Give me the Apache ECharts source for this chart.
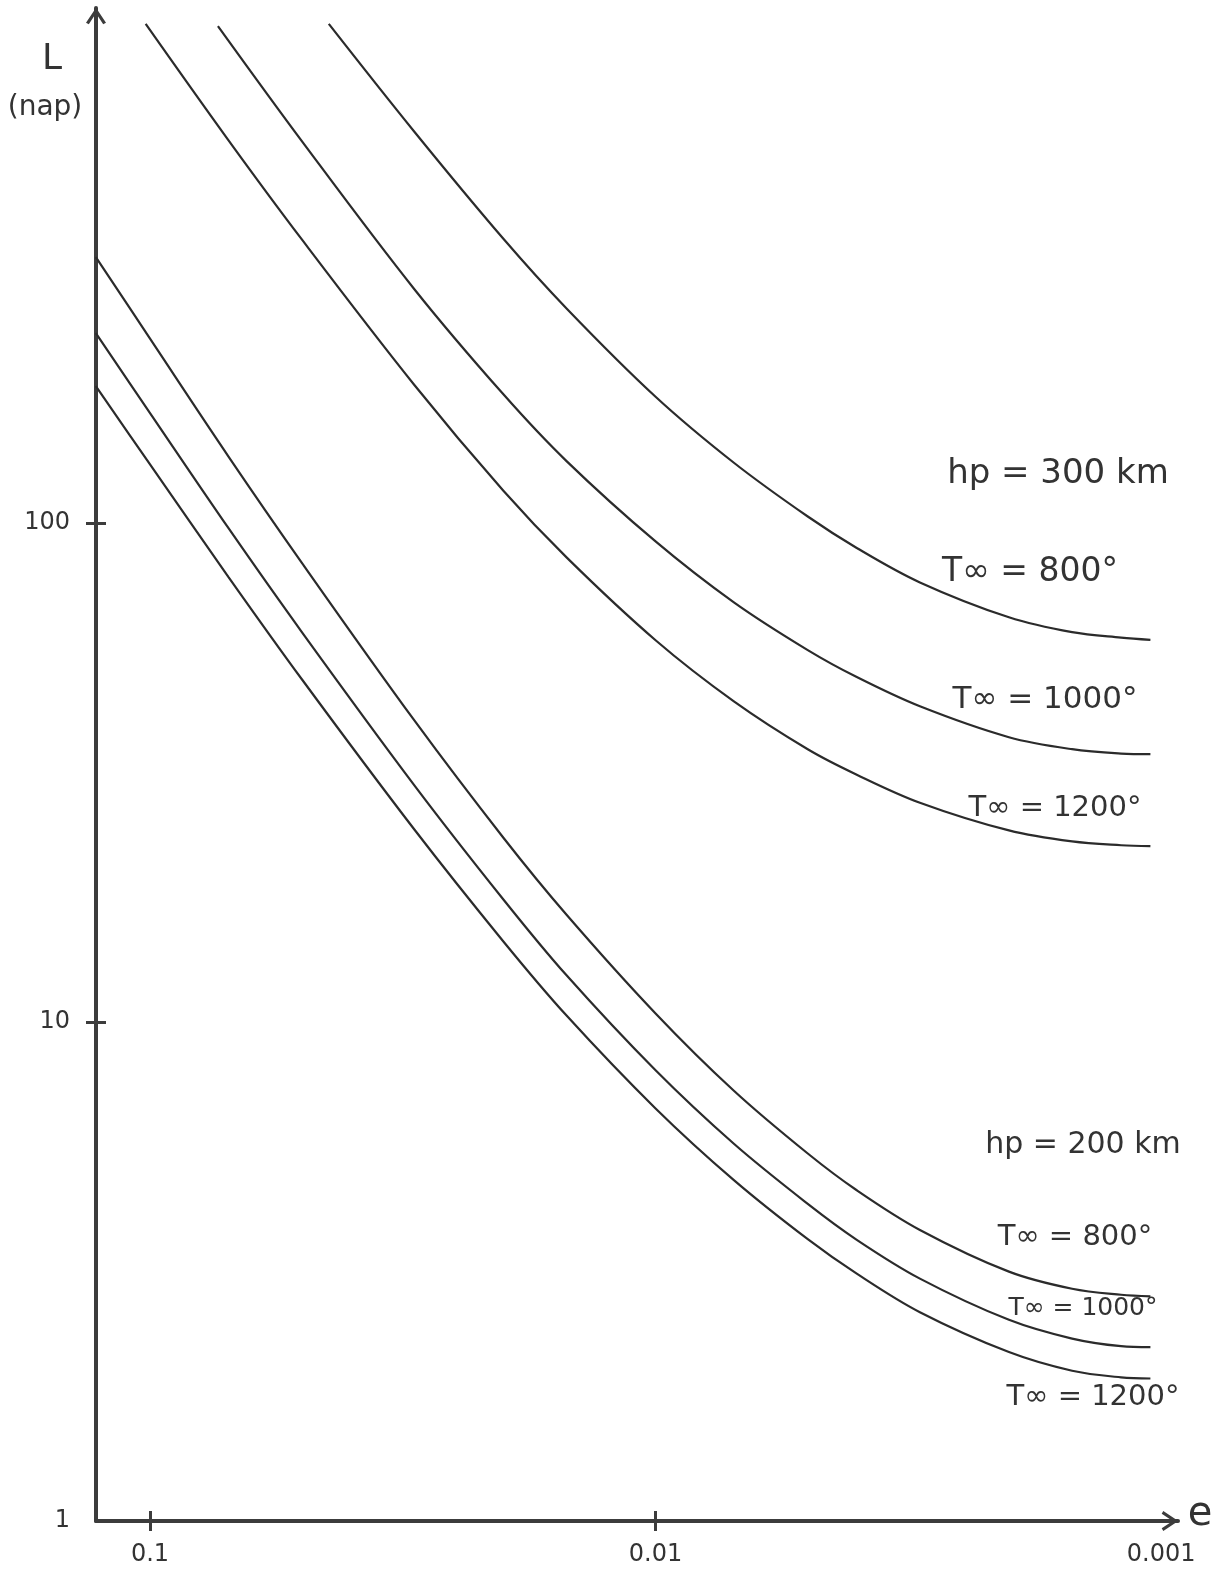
<!DOCTYPE html>
<html>
<head>
<meta charset="utf-8">
<script src="https://cdn.jsdelivr.net/npm/echarts@6/dist/echarts.min.js"></script>
<style>
  html, body { margin: 0; padding: 0; background: #ffffff; }
  #chart { width: 1218px; height: 1576px; }
</style>
</head>
<body>
<div id="chart"></div>
<script>
// Orbital lifetime L (days) against eccentricity e, perigee height hp and exospheric temperature T∞

// hp = 300 km
const hp300T800Ecc  = [0.0443, 0.03, 0.02, 0.015, 0.01, 0.007, 0.005, 0.004, 0.003, 0.002, 0.0015, 0.0012, 0.00105];
const hp300T800Life = [1000, 608, 371, 269, 179, 132, 103, 89.1, 76.0, 64.7, 60.4, 58.9, 58.3];

const hp300T1000Ecc  = [0.0734, 0.05, 0.03, 0.02, 0.015, 0.01, 0.007, 0.005, 0.004, 0.003, 0.002, 0.0015, 0.0012, 0.00105];
const hp300T1000Life = [990, 581, 294, 181, 133, 91.8, 69.3, 55.6, 49.1, 42.9, 37.2, 35.2, 34.5, 34.4];

const hp300T1200Ecc  = [0.102, 0.07, 0.05, 0.03, 0.02, 0.015, 0.01, 0.007, 0.005, 0.004, 0.003, 0.002, 0.0015, 0.0012, 0.00105];
const hp300T1200Life = [1000, 585, 369, 189, 116, 85.3, 58.2, 43.9, 35.2, 31.3, 27.5, 24.2, 23.0, 22.6, 22.5];

// hp = 200 km
const hp200Ecc = [0.128, 0.1, 0.07, 0.05, 0.03, 0.02, 0.015, 0.01, 0.007, 0.005, 0.004, 0.003, 0.002, 0.0015, 0.0012, 0.00105];
const hp200T800Life  = [341, 234, 136, 83.0, 40.2, 23.4, 16.4, 10.4, 7.28, 5.45, 4.60, 3.83, 3.16, 2.92, 2.84, 2.82];
const hp200T1000Life = [240, 166, 97.7, 60.3, 29.8, 17.6, 12.4, 8.00, 5.70, 4.32, 3.66, 3.06, 2.53, 2.32, 2.24, 2.23];
const hp200T1200Life = [188, 131, 78.0, 48.5, 24.3, 14.5, 10.3, 6.71, 4.82, 3.67, 3.13, 2.62, 2.18, 2.00, 1.94, 1.93];

// axis ticks and labels
const eccTicks = [0.1, 0.01];
const eccTickLabels = [0.1, 0.01, 0.001];
const lifeTicks = [10, 100];
const lifeTickLabels = [1, 10, 100];

// axis extents
const eccMin = 0.000926, eccMax = 0.1279;
const lifeMin = 1, lifeMax = 1076;

const INK = '#2b2b2b';
const AXIS_INK = '#3c3c3c';
const FONT = 'DejaVu Sans';
// open arrowhead drawn as a thin chevron
const CHEVRON = 'path://M0,15 L10,0 L20,15 L17.2,16.6 L10,5.6 L2.8,16.6 Z';

function pairs(xs, ys) {
  return xs.map(function (x, i) { return [x, ys[i]]; });
}

function curve(name, xs, ys) {
  return {
    name: name,
    type: 'line',
    xAxisIndex: 0,
    yAxisIndex: 0,
    data: pairs(xs, ys),
    showSymbol: false,
    smooth: 0.35,
    silent: true,
    lineStyle: { color: INK, width: 2.2 },
    z: 3
  };
}

// main axis carries the line, labels and the outer half of each tick;
// the companion axis sits on the same line and draws the inner half
function xAxisDef(main) {
  return {
    type: 'log',
    logBase: 10,
    inverse: true,
    position: 'bottom',
    offset: 0,
    min: eccMin,
    max: eccMax,
    gridIndex: 0,
    axisLine: main ? {
      show: true,
      onZero: false,
      symbol: ['none', CHEVRON],
      symbolSize: [20, 17],
      symbolOffset: [0, -8],
      lineStyle: { color: AXIS_INK, width: 4 }
    } : { show: false, onZero: false },
    axisTick: {
      show: true,
      inside: !main,
      length: 10,
      customValues: eccTicks,
      lineStyle: { color: AXIS_INK, width: 3 }
    },
    minorTick: { show: false },
    splitLine: { show: false },
    axisLabel: main ? {
      show: true,
      customValues: eccTickLabels,
      formatter: function (v) { return String(v); },
      margin: 22,
      fontSize: 24,
      fontFamily: FONT,
      color: '#333333'
    } : { show: false }
  };
}

function yAxisDef(main) {
  return {
    type: 'log',
    logBase: 10,
    position: 'left',
    offset: 0,
    min: lifeMin,
    max: lifeMax,
    gridIndex: 0,
    axisLine: main ? {
      show: true,
      onZero: false,
      symbol: ['none', CHEVRON],
      symbolSize: [20, 17],
      symbolOffset: [0, -8],
      lineStyle: { color: AXIS_INK, width: 4 }
    } : { show: false, onZero: false },
    axisTick: {
      show: true,
      inside: !main,
      length: 10,
      customValues: lifeTicks,
      lineStyle: { color: AXIS_INK, width: 3 }
    },
    minorTick: { show: false },
    splitLine: { show: false },
    axisLabel: main ? {
      show: true,
      customValues: lifeTickLabels,
      formatter: function (v) { return String(v); },
      margin: 26,
      fontSize: 24,
      fontFamily: FONT,
      color: '#333333'
    } : { show: false }
  };
}

function note(text, x, y, size) {
  return {
    type: 'text',
    x: x,
    y: y,
    silent: true,
    z: 10,
    style: {
      text: text,
      fontSize: size,
      fontFamily: FONT,
      fill: '#333333',
      align: 'center',
      verticalAlign: 'middle'
    }
  };
}

const chart = echarts.init(document.getElementById('chart'), null, { renderer: 'canvas' });

chart.setOption({
  animation: false,
  backgroundColor: '#ffffff',
  grid: { left: 96, right: 40, top: 8, bottom: 55, containLabel: false, outerBoundsMode: 'none' },
  xAxis: [xAxisDef(true), xAxisDef(false)],
  yAxis: [yAxisDef(true), yAxisDef(false)],
  series: [
    curve('hp=300 km, T∞=800°', hp300T800Ecc, hp300T800Life),
    curve('hp=300 km, T∞=1000°', hp300T1000Ecc, hp300T1000Life),
    curve('hp=300 km, T∞=1200°', hp300T1200Ecc, hp300T1200Life),
    curve('hp=200 km, T∞=800°', hp200Ecc, hp200T800Life),
    curve('hp=200 km, T∞=1000°', hp200Ecc, hp200T1000Life),
    curve('hp=200 km, T∞=1200°', hp200Ecc, hp200T1200Life)
  ],
  graphic: [
    note('L', 52, 60, 36),
    note('(nap)', 45, 108, 28),
    note('e', 1200, 1515, 40),
    note('hp = 300 km', 1058, 474, 34),
    note('T∞ = 800°', 1030, 572, 33),
    note('T∞ = 1000°', 1045, 700, 31),
    note('T∞ = 1200°', 1055, 808, 29),
    note('hp = 200 km', 1083, 1145, 30),
    note('T∞ = 800°', 1075, 1237, 29),
    note('T∞ = 1000°', 1083, 1308, 25),
    note('T∞ = 1200°', 1093, 1397, 29)
  ]
});
</script>
</body>
</html>
